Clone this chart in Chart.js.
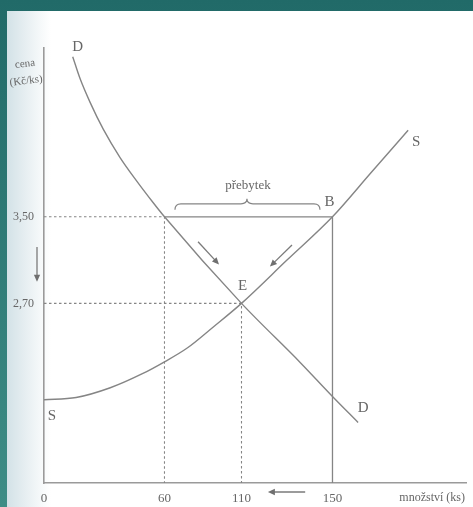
<!DOCTYPE html>
<html>
<head>
<meta charset="utf-8">
<script src="https://cdn.jsdelivr.net/npm/chart.js@4.4.1/dist/chart.umd.min.js"></script>
<style>
    html, body { margin: 0; padding: 0; }
    body {
        width: 473px; height: 507px; overflow: hidden; position: relative;
        background: linear-gradient(to bottom, #216a68, #3e8d86);
    }
    #paper {
        position: absolute; left: 7px; top: 11px; right: 0; bottom: 0;
        background: linear-gradient(to right, #d3e2e7 0px, #e6eef1 18px, #f6f9fa 34px, #ffffff 44px);
    }
    #wrap { position: absolute; left: 0; top: 0; width: 473px; height: 507px; filter: blur(0.3px); }
</style>
</head>
<body>
<div id="paper"></div>
<div id="wrap"><canvas id="market"></canvas></div>
<script>
// axis ticks
const quantityTicks = [0, 60, 110, 150];
const priceTicks = [2.70, 3.50];
const priceMin = 1.04;
const priceMax = 5.06;
const quantityMax = 210;

// demand curve D
const demandQ = [14.3, 17.9, 22.9, 29.5, 37.8, 46.2, 54.4, 60, 110, 136, 150, 161.5];
const demandP = [4.98, 4.78, 4.56, 4.31, 4.05, 3.83, 3.63, 3.50, 2.70, 2.15, 1.84, 1.60];

// supply curve S
const supplyQ = [0, 16, 33, 49, 60, 75, 91.5, 110, 130, 150, 167, 184];
const supplyP = [1.81, 1.83, 1.92, 2.05, 2.16, 2.29, 2.48, 2.70, 3.10, 3.50, 3.90, 4.30];

// arrows towards equilibrium
const arrowFrom = [[81.8, 3.27], [132.2, 3.24]];
const arrowTo = [[95.4, 3.06], [122.5, 3.04]];

// the quantity axis of the textbook drawing is not drawn to scale:
// each tick sits at its own fraction of the axis length
const axisBreaks = [0, 60, 110, 150, quantityMax];
const axisStops = [0, 0.2855, 0.468, 0.6836, 1];

function interp(v, from, to) {
    for (let i = 1; i < from.length; i++) {
        if (v <= from[i] || i === from.length - 1) {
            const t = (v - from[i - 1]) / (from[i] - from[i - 1]);
            return to[i - 1] + t * (to[i] - to[i - 1]);
        }
    }
}

class PiecewiseScale extends Chart.LinearScale {
    getPixelForValue(value) {
        if (value === null || isNaN(value)) return NaN;
        return this.getPixelForDecimal(interp(value, axisBreaks, axisStops));
    }
    getValueForPixel(pixel) {
        return interp(this.getDecimalForPixel(pixel), axisStops, axisBreaks);
    }
}
PiecewiseScale.id = 'piecewise';
PiecewiseScale.defaults = Chart.LinearScale.defaults;
Chart.register(PiecewiseScale);

const lineColor = '#858585';
const textColor = '#666666';
const serif = '"Liberation Serif", "DejaVu Serif", serif';

const toPoints = (xs, ys) => xs.map((q, i) => ({ x: q, y: ys[i] }));

function arrow(ctx, x1, y1, x2, y2, head) {
    const a = Math.atan2(y2 - y1, x2 - x1);
    ctx.beginPath();
    ctx.moveTo(x1, y1);
    ctx.lineTo(x2 - Math.cos(a) * head * 0.6, y2 - Math.sin(a) * head * 0.6);
    ctx.stroke();
    ctx.beginPath();
    ctx.moveTo(x2, y2);
    ctx.lineTo(x2 - Math.cos(a) * head + Math.sin(a) * head * 0.45, y2 - Math.sin(a) * head - Math.cos(a) * head * 0.45);
    ctx.lineTo(x2 - Math.cos(a) * head - Math.sin(a) * head * 0.45, y2 - Math.sin(a) * head + Math.cos(a) * head * 0.45);
    ctx.closePath();
    ctx.fill();
}

const overlay = {
    id: 'overlay',
    afterDatasetsDraw(chart) {
        const { ctx, chartArea } = chart;
        const xs = chart.scales.x, ys = chart.scales.y;
        const px = v => xs.getPixelForValue(v);
        const py = v => ys.getPixelForValue(v);

        ctx.save();
        ctx.fillStyle = textColor;
        ctx.strokeStyle = lineColor;
        ctx.textAlign = 'center';
        ctx.textBaseline = 'middle';

        // curve labels
        ctx.font = '15px ' + serif;
        const dn = demandQ.length - 1, sn = supplyQ.length - 1;
        ctx.fillText('D', px(demandQ[0]) + 5, py(demandP[0]) - 10);
        ctx.fillText('D', px(demandQ[dn]) + 5, py(demandP[dn]) - 14);
        ctx.fillText('S', px(supplyQ[sn]) + 8, py(supplyP[sn]) + 12);
        ctx.fillText('S', px(supplyQ[0]) + 8, py(supplyP[0]) + 16);
        ctx.fillText('B', px(quantityTicks[3]) - 3, py(priceTicks[1]) - 15);
        ctx.fillText('E', px(quantityTicks[2]) + 1, py(priceTicks[0]) - 17);

        // brace over the surplus
        const base = py(priceTicks[1]);
        const b1 = px(66.8), b2 = px(144.5), bm = px(112.4);
        const y0 = base - 7, y1 = base - 13, y2 = base - 18;
        ctx.lineWidth = 1.2;
        ctx.beginPath();
        ctx.moveTo(b1, y0);
        ctx.quadraticCurveTo(b1, y1, b1 + 6, y1);
        ctx.lineTo(bm - 6, y1);
        ctx.quadraticCurveTo(bm, y1, bm, y2);
        ctx.quadraticCurveTo(bm, y1, bm + 6, y1);
        ctx.lineTo(b2 - 6, y1);
        ctx.quadraticCurveTo(b2, y1, b2, y0);
        ctx.stroke();
        ctx.font = '13px ' + serif;
        ctx.fillText('přebytek', bm + 1, base - 31);

        // arrows
        ctx.fillStyle = '#6f6f6f';
        ctx.strokeStyle = '#7a7a7a';
        ctx.lineWidth = 1.3;
        arrowFrom.forEach((f, i) => {
            arrow(ctx, px(f[0]), py(f[1]), px(arrowTo[i][0]), py(arrowTo[i][1]), 7);
        });
        const ax = chartArea.left - 7;
        arrow(ctx, ax, py(3.22), ax, py(2.90), 7);
        const ay = chartArea.bottom + 9;
        arrow(ctx, px(138), ay, px(121.6), ay, 7);

        // axis captions
        ctx.fillStyle = textColor;
        ctx.font = '11px ' + serif;
        ctx.save();
        ctx.translate(25, 64);
        ctx.rotate(-0.12);
        ctx.fillText('cena', 0, 0);
        ctx.fillText('(Kč/ks)', -1, 17);
        ctx.restore();
        ctx.font = '12px ' + serif;
        ctx.textAlign = 'right';
        ctx.fillText('množství (ks)', chartArea.right - 1, chartArea.bottom + 15);

        ctx.restore();
    }
};

const guide = (xs, ys, dashed) => ({
    data: toPoints(xs, ys),
    showLine: true,
    borderColor: lineColor,
    borderWidth: dashed ? 1.1 : 1.3,
    borderDash: dashed ? [2.5, 2.5] : [],
    pointRadius: 0,
    tension: 0
});

const curve = (label, xs, ys) => ({
    label: label,
    data: toPoints(xs, ys),
    showLine: true,
    borderColor: lineColor,
    borderWidth: 1.4,
    pointRadius: 0,
    cubicInterpolationMode: 'monotone'
});

new Chart(document.getElementById('market').getContext('2d'), {
    type: 'scatter',
    data: {
        datasets: [
            guide([0, quantityTicks[1], quantityTicks[1]], [priceTicks[1], priceTicks[1], priceMin], true),
            guide([0, quantityTicks[2], quantityTicks[2]], [priceTicks[0], priceTicks[0], priceMin], true),
            guide([quantityTicks[1], quantityTicks[3], quantityTicks[3]], [priceTicks[1], priceTicks[1], priceMin], false),
            curve('D', demandQ, demandP),
            curve('S', supplyQ, supplyP)
        ]
    },
    options: {
        responsive: true,
        maintainAspectRatio: false,
        animation: false,
        layout: { padding: { left: 0, top: 48, right: 7, bottom: 0 } },
        plugins: {
            legend: { display: false },
            tooltip: { enabled: false }
        },
        scales: {
            x: {
                type: 'piecewise',
                min: 0,
                max: quantityMax,
                grid: { display: false, drawTicks: false },
                border: { color: '#9a9a9a', width: 1.6 },
                afterBuildTicks: scale => { scale.ticks = quantityTicks.map(v => ({ value: v })); },
                afterFit: scale => { scale.height = 24; },
                ticks: {
                    autoSkip: false,
                    maxRotation: 0,
                    padding: 8,
                    color: textColor,
                    font: { family: serif, size: 13 },
                    callback: v => String(v)
                }
            },
            y: {
                type: 'linear',
                min: priceMin,
                max: priceMax,
                grid: { display: false, drawTicks: false },
                border: { color: '#9a9a9a', width: 1.6 },
                afterBuildTicks: scale => { scale.ticks = priceTicks.map(v => ({ value: v })); },
                afterFit: scale => { scale.width = 44; },
                ticks: {
                    autoSkip: false,
                    padding: 10,
                    color: textColor,
                    font: { family: serif, size: 12 },
                    callback: v => v.toFixed(2).replace('.', ',')
                }
            }
        }
    },
    plugins: [overlay]
});
</script>
</body>
</html>
